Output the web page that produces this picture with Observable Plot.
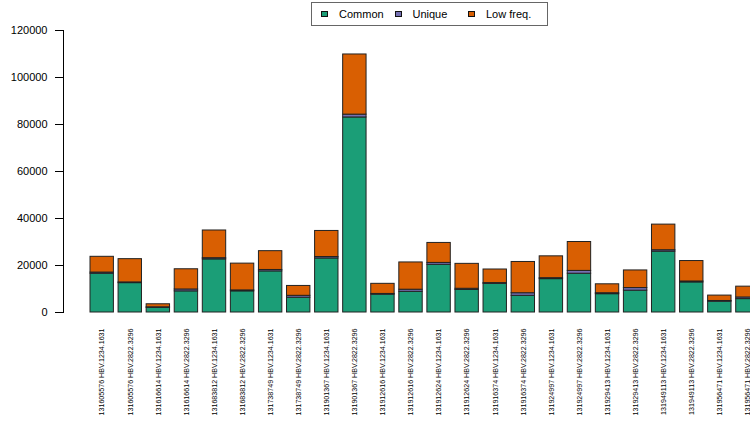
<!DOCTYPE html>
<html>
<head>
<meta charset="utf-8">
<script src="https://cdn.jsdelivr.net/npm/d3@7"></script>
<script src="https://cdn.jsdelivr.net/npm/@observablehq/plot@0.6"></script>
<style>
  html, body { margin: 0; padding: 0; overflow: hidden; background: #fff; }
  #wrap { position: relative; width: 750px; height: 421px; overflow: hidden; font-family: "Liberation Sans", Arial, sans-serif; }
  #chart svg { max-width: none !important; display: block; }
  #legend { position: absolute; left: 311px; top: 2px; width: 226px; height: 22px; border: 1px solid #666; background: #fff; display: flex; align-items: center; padding-left: 9px; box-sizing: content-box; }
  #legend .item { display: flex; align-items: center; width: 73.5px; font-size: 11px; color: #000; white-space: nowrap; }
  #legend .sw { width: 7px; height: 6px; border: 1px solid #111; box-sizing: border-box; margin-right: 11px; }
</style>
</head>
<body>
<div id="wrap"><div id="chart"></div><div id="legend"></div></div>
<script>
// Sample / region labels, one per stacked bar
const labels = [
  "131605576 HBV.1234.1631", "131605576 HBV.2822.3296",
  "131616614 HBV.1234.1631", "131616614 HBV.2822.3296",
  "131683812 HBV.1234.1631", "131683812 HBV.2822.3296",
  "131738749 HBV.1234.1631", "131738749 HBV.2822.3296",
  "131901367 HBV.1234.1631", "131901367 HBV.2822.3296",
  "131912616 HBV.1234.1631", "131912616 HBV.2822.3296",
  "131912624 HBV.1234.1631", "131912624 HBV.2822.3296",
  "131916374 HBV.1234.1631", "131916374 HBV.2822.3296",
  "131924997 HBV.1234.1631", "131924997 HBV.2822.3296",
  "131929413 HBV.1234.1631", "131929413 HBV.2822.3296",
  "131949113 HBV.1234.1631", "131949113 HBV.2822.3296",
  "131956471 HBV.1234.1631", "131956471 HBV.2822.3296"
];

// Counts per variant class
const common  = [16500, 12500, 2000, 9000, 22600, 9000, 17500, 6300, 23000, 83000, 7600, 8800,
                 20300, 9600, 12200, 7100, 14200, 16500, 7800, 9300, 25900, 12800, 4600, 5700];
const unique  = [500, 300, 200, 800, 500, 400, 600, 800, 600, 1200, 300, 900,
                 800, 500, 300, 1100, 400, 1200, 400, 1100, 600, 400, 300, 700];
const lowFreq = [6700, 9900, 1300, 8600, 11800, 11400, 8000, 4200, 11100, 25600, 4300, 11600,
                 8500, 10600, 5800, 13300, 9300, 12300, 3800, 7500, 10900, 8700, 2300, 4600];

const seriesNames  = ["Common", "Unique", "Low freq."];
const seriesColors = ["#1B9E77", "#7570B3", "#D95F02"];
const yTicks = [0, 20000, 40000, 60000, 80000, 100000, 120000];

const seriesValues = [common, unique, lowFreq];
const rows = [];
labels.forEach((label, i) => {
  seriesNames.forEach((name, k) => {
    rows.push({label, type: name, value: seriesValues[k][i]});
  });
});

const chart = Plot.plot({
  width: 800,
  height: 421,
  marginTop: 30,
  marginBottom: 109,
  marginLeft: 63,
  marginRight: 0,
  style: {fontFamily: "Liberation Sans, Arial, sans-serif", background: "#fff", maxWidth: "none"},
  x: {domain: labels, range: [90, 759.1], paddingInner: 0.2 / 1.2, paddingOuter: 0, round: false},
  y: {domain: [0, 120000]},
  color: {domain: seriesNames, range: seriesColors},
  marks: [
    Plot.frame({anchor: "left", stroke: "#000"}),
    Plot.axisY({ticks: yTicks, tickFormat: d => String(d), tickSize: 8, tickPadding: 8, fontSize: 11, label: null}),
    Plot.axisX({tickSize: 0, tickPadding: 16, tickRotate: -90, fontSize: 7.1, fill: "#000", label: null}),
    Plot.barY(rows, {
      x: "label", y: "value", fill: "type",
      order: seriesNames,
      stroke: "#222", strokeWidth: 1
    })
  ]
});
document.getElementById("chart").appendChild(chart);

// Horizontal legend box
const legend = d3.select("#legend");
seriesNames.forEach((name, k) => {
  const item = legend.append("div").attr("class", "item");
  item.append("div").attr("class", "sw").style("background", seriesColors[k]);
  item.append("span").text(name);
});
</script>
</body>
</html>
